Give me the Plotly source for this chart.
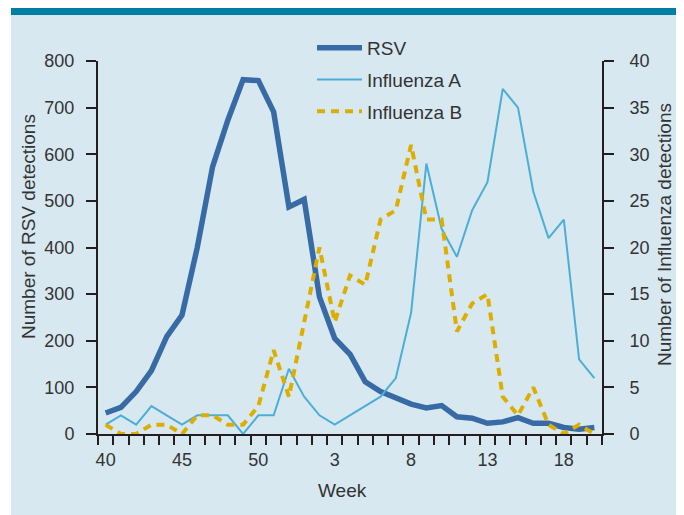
import plotly.graph_objects as go

# ---- data ----
weeks = [40, 41, 42, 43, 44, 45, 46, 47, 48, 49, 50, 51, 52,
         1, 2, 3, 4, 5, 6, 7, 8, 9, 10, 11, 12, 13, 14, 15, 16, 17, 18, 19, 20]
tick_weeks = [40, 45, 50, 3, 8, 13, 18]

rsv = [45, 57, 91, 136, 209, 255, 400, 573, 673, 760, 758, 691, 487,
       503, 294, 205, 171, 112, 91, 76, 64, 56, 61, 37, 34, 23, 26, 35, 23, 23, 14, 10, 14]
flu_a = [1, 2, 1, 3, 2, 1, 2, 2, 2, 0, 2, 2, 7,
         4, 2, 1, 2, 3, 4, 6, 13, 29, 22, 19, 24, 27, 37, 35, 26, 21, 23, 8, 6]
flu_b = [1, 0, 0, 1, 1, 0, 2, 2, 1, 1, 3, 9, 4,
         12, 20, 12, 17, 16, 23, 24, 31, 23, 23, 11, 14, 15, 4, 2, 5, 1, 0, 1, 0]

rsv_ticks = list(range(0, 801, 100))
flu_ticks = list(range(0, 41, 5))

# ---- figure ----
idx = list(range(len(weeks)))
tickvals = [weeks.index(w) for w in tick_weeks]
ticktext = [str(w) for w in tick_weeks]

FONT = "Liberation Sans, Arial, sans-serif"
TXT = "#333333"
AX = "#231f20"

fig = go.Figure()
fig.add_trace(go.Scatter(x=idx, y=rsv, name="RSV", mode="lines", legendgroup="a",
                         line=dict(color="#386ba6", width=5.5), yaxis="y"))
fig.add_trace(go.Scatter(x=idx, y=flu_a, name="Influenza A", mode="lines", legendgroup="b",
                         line=dict(color="#4caed6", width=2), yaxis="y2"))
fig.add_trace(go.Scatter(x=idx, y=flu_b, name="Influenza B", mode="lines", legendgroup="c",
                         line=dict(color="#dcae02", width=4, dash="8px,6px"), yaxis="y2"))

OFF = 8  # page offset of the figure (body margin)
W, H = 676, 507
L, R, T, B = 90, 82, 53, 81
pw, ph = W - L - R, H - T - B


def px(xpage):
    return (xpage - OFF - L) / pw


def py(ypage):
    return (H - B - (ypage - OFF)) / ph


common_y = dict(showline=True, linecolor=AX, linewidth=2, ticks="outside", ticklen=10,
                tickwidth=2, tickcolor=AX, showgrid=False, zeroline=False,
                tickfont=dict(family=FONT, size=18, color=TXT))

fig.update_layout(
    width=W, height=H,
    margin=dict(l=L, r=R, t=T, b=B),
    paper_bgcolor="#d8e8f0",
    plot_bgcolor="rgba(0,0,0,0)",
    font=dict(family=FONT, size=18, color=TXT),
    xaxis=dict(range=[-0.5, len(weeks) - 0.5], tickmode="array", tickvals=tickvals,
               ticktext=ticktext, ticks="", showline=True, linecolor=AX, linewidth=2,
               showgrid=False, zeroline=False, ticklabelstandoff=8,
               tickfont=dict(family=FONT, size=18, color=TXT),
               minor=dict(tickmode="linear", tick0=-0.5, dtick=1, ticks="outside",
                          ticklen=9, tickwidth=2, tickcolor=AX, showgrid=False)),
    yaxis=dict(range=[0, 800], tickmode="array", tickvals=rsv_ticks, ticklabelstandoff=8,
               **common_y),
    yaxis2=dict(range=[0, 40], tickmode="array", tickvals=flu_ticks, overlaying="y",
                side="right", ticklabelstandoff=12, **common_y),
    legend=dict(x=px(312), xanchor="left", y=py(29), yanchor="top",
                bgcolor="rgba(0,0,0,0)", font=dict(family=FONT, size=19, color=TXT),
                tracegroupgap=4, itemwidth=45, traceorder="grouped"),
    shapes=[
        dict(type="rect", xref="paper", yref="paper", x0=px(0), x1=px(11),
             y0=py(H + OFF + 5), y1=py(0), fillcolor="#ffffff", line=dict(width=0),
             layer="below"),
        dict(type="rect", xref="paper", yref="paper", x0=px(11), x1=px(W + OFF + 5),
             y0=py(15), y1=py(0), fillcolor="#007ea3", line=dict(width=0), layer="below"),
    ],
    annotations=[
        dict(text="Number of RSV detections", xref="paper", yref="paper",
             x=px(28), y=py(227), textangle=-90, showarrow=False,
             font=dict(family=FONT, size=19, color=TXT), xanchor="center", yanchor="middle"),
        dict(text="Number of Influenza detections", xref="paper", yref="paper",
             x=px(664), y=py(235), textangle=-90, showarrow=False,
             font=dict(family=FONT, size=19, color=TXT), xanchor="center", yanchor="middle"),
        dict(text="Week", xref="paper", yref="paper", x=px(342), y=py(490),
             showarrow=False, font=dict(family=FONT, size=19, color=TXT),
             xanchor="center", yanchor="middle"),
    ],
)

fig.write_html("out.html")
